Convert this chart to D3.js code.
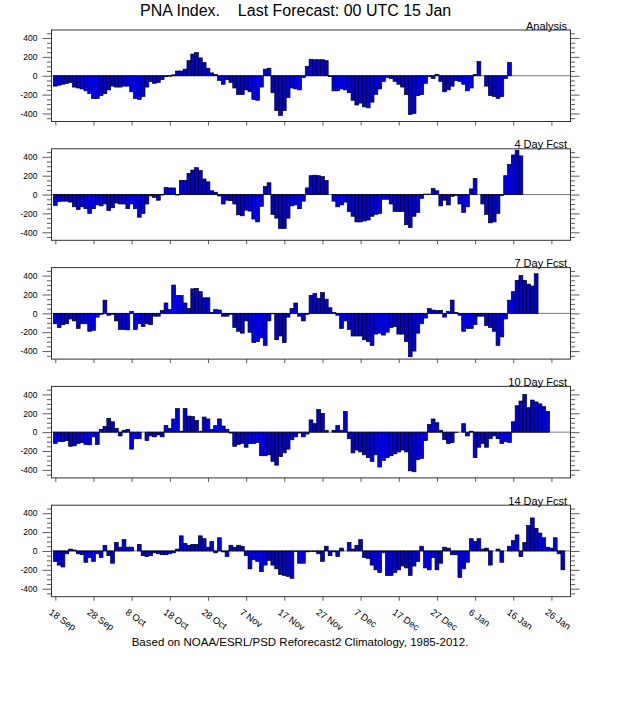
<!DOCTYPE html>
<html><head><meta charset="utf-8">
<script src="https://cdn.jsdelivr.net/npm/d3@7"></script>
<style>
body{margin:0;background:#fff}
text{font-family:"Liberation Sans",Arial,Helvetica,sans-serif;fill:#000}
</style>
</head><body><svg id="c" width="618" height="702"></svg>
<script>
// ---- data ----
const titleText = "PNA Index.    Last Forecast: 00 UTC 15 Jan";
const footText = "Based on NOAA/ESRL/PSD Reforecast2 Climatology, 1985-2012.";
const panelNames = ["Analysis","4 Day Fcst","7 Day Fcst","10 Day Fcst","14 Day Fcst"];
// day index 0 = 18 Sep
const tickDays = [0,10,20,30,40,50,60,70,80,90,100,110,120,130];
const tickLabels = ["18 Sep","28 Sep","8 Oct","18 Oct","28 Oct","7 Nov","17 Nov","27 Nov","7 Dec","17 Dec","27 Dec","6 Jan","16 Jan","26 Jan"];
const yTickValues = [-400,-200,0,200,400];

const analysis = [
-110,-100,-90,-80,-70,-120,-130,-140,-160,-190,
-240,-240,-210,-190,-150,-110,-120,-120,-110,-110,
-170,-240,-250,-220,-120,-60,-80,-70,-40,-10,
-5,10,50,50,70,160,230,245,190,140,
80,30,15,-50,-90,-40,-70,-130,-200,-200,
-150,-170,-250,-260,-120,70,80,-180,-370,-420,
-370,-230,-130,-140,-150,-20,100,175,170,170,
170,160,-10,-160,-160,-140,-150,-180,-260,-310,
-290,-330,-340,-280,-200,-140,-60,-20,-30,-60,
-90,-120,-200,-410,-400,-210,-200,-80,-10,-30,
15,-60,-170,-150,-110,-50,-60,-90,-160,-130,
15,150,0,-110,-210,-220,-240,-220,-30,140];

const fcst4 = [
-115,-75,-70,-70,-80,-130,-160,-130,-150,-200,
-150,-110,-120,-100,-170,-140,-90,-100,-100,-150,
-100,-150,-240,-200,-100,-15,-30,-60,-5,75,
70,70,-5,150,150,225,260,285,255,165,
135,40,25,-15,-100,-60,-65,-100,-215,-225,
-165,-175,-260,-290,-125,85,125,-210,-250,-360,
-360,-250,-120,-110,-150,-70,70,200,205,200,
190,150,0,-70,-130,-110,-80,-180,-230,-290,
-290,-280,-270,-230,-210,-200,-50,-50,-100,-180,
-180,-180,-320,-350,-230,-190,-40,5,5,65,
40,-120,-60,-110,-20,-10,-100,-190,-130,60,
170,0,-100,-210,-300,-290,-200,-10,200,320,
420,470,410];

const fcst7 = [
-110,-150,-120,-110,-60,-80,-160,-110,-110,-190,
-180,-40,-10,140,-20,-10,-80,-170,-170,-175,
20,-170,-110,-140,-110,-120,-30,-30,30,110,
40,300,190,190,110,50,260,265,230,165,
165,10,40,35,-30,-30,-10,-150,-190,-210,
-80,-200,-310,-300,-260,-340,-80,-5,-280,-240,
-310,-40,50,110,-30,-80,-10,190,210,160,
220,150,60,10,-20,-160,-80,-170,-240,-240,
-240,-280,-300,-340,-220,-210,-230,-200,-150,-140,
-220,-220,-300,-460,-400,-210,-110,-50,50,35,
30,30,-40,20,140,10,-20,-190,-160,-160,
-120,-30,-30,-130,-150,-190,-340,-250,-60,140,
230,350,400,350,310,290,420];

const fcst10 = [
-120,-100,-100,-90,-150,-145,-120,-110,-130,-135,
-50,-130,30,60,145,110,40,-40,20,30,
-180,-70,-70,0,-90,-40,-50,-30,-50,70,
40,140,250,10,250,170,165,125,10,160,
140,30,70,140,65,30,-10,-150,-130,-120,
-160,-120,-120,-110,-250,-250,-240,-310,-350,-260,
-220,-180,-80,-50,-10,-50,-20,130,90,240,
200,20,0,20,70,20,220,-70,-220,-190,
-210,-240,-270,-310,-240,-370,-300,-270,-250,-230,
-210,-190,-210,-410,-420,-290,-280,-90,80,140,
100,20,-80,-120,-110,-5,0,90,-40,10,
-270,-160,-120,-160,-70,-40,-70,-120,-100,-110,
110,280,330,400,260,340,320,300,270,220];

const fcst14 = [
-110,-150,-170,-30,20,10,-30,-40,-120,-70,
-110,-30,-70,60,-50,-130,90,40,120,40,
40,0,70,-50,-60,-50,-20,-30,-40,-40,
-30,-20,20,160,80,60,70,70,160,130,
40,100,-20,140,-10,-60,60,40,60,50,
-50,-190,-90,-110,-220,-150,-100,-150,-190,-250,
-260,-270,-290,-5,-130,-130,-10,-5,-5,-30,
-110,50,-50,-10,-60,30,0,90,20,60,
120,-70,-80,-150,-200,-230,-20,-260,-260,-230,
-200,-160,-180,-260,-160,-110,50,-180,-200,-70,
-200,-130,40,30,-40,-40,-280,-190,-120,130,
100,130,20,30,-150,0,20,-120,0,50,
110,170,-60,90,270,350,240,190,140,40,
30,140,-30,-200];

const series = [analysis, fcst4, fcst7, fcst10, fcst14];

// ---- drawing ----
const svg = d3.select("#c");
const x = d3.scaleLinear().domain([-1,135]).range([51.5,570.5]);
const panelTop0 = 30, panelStep = 118.8, panelH = 91.5;
const minorVals = d3.range(-450,451,50).filter(v => v % 200 !== 0);

svg.append("text").attr("x",140).attr("y",15.5)
  .attr("font-size",16).style("white-space","pre").text(titleText);

series.forEach((vals, k) => {
  const top = panelTop0 + k*panelStep;
  const y = d3.scaleLinear().domain([-485,485]).range([top+panelH, top]);
  const g = svg.append("g");

  // zero line
  g.append("line").attr("x1",x.range()[0]).attr("x2",x.range()[1])
    .attr("y1",y(0)).attr("y2",y(0)).attr("stroke","#555").attr("stroke-width",0.8);

  // bars
  g.selectAll("rect.bar").data(vals).join("rect").attr("class","bar")
    .attr("x",(d,i)=>x(i-0.5)).attr("width",(d,i)=>x(i+0.5)-x(i-0.5))
    .attr("y",d=>y(Math.max(0,d))).attr("height",d=>Math.abs(y(d)-y(0)))
    .attr("fill","#0000e0").attr("stroke","#000010").attr("stroke-width",0.7);

  // frame
  g.append("rect").attr("x",x.range()[0]).attr("y",top)
    .attr("width",x.range()[1]-x.range()[0]).attr("height",panelH)
    .attr("fill","none").attr("stroke","#333").attr("stroke-width",1);

  // left axis
  const la = g.append("g").attr("transform",`translate(${x.range()[0]},0)`)
    .call(d3.axisLeft(y).tickValues(yTickValues).tickSize(9).tickPadding(5).tickFormat(d=>String(d)));
  la.select(".domain").remove();
  la.selectAll("text").attr("font-size",8.5).attr("font-family","Liberation Sans, Arial, sans-serif");
  const lm = g.append("g").attr("transform",`translate(${x.range()[0]},0)`)
    .call(d3.axisLeft(y).tickValues(minorVals).tickSize(4.5).tickFormat(""));
  lm.select(".domain").remove();

  // right axis
  const ra = g.append("g").attr("transform",`translate(${x.range()[1]},0)`)
    .call(d3.axisRight(y).tickValues(yTickValues).tickSize(9).tickFormat(""));
  ra.select(".domain").remove();
  const rm = g.append("g").attr("transform",`translate(${x.range()[1]},0)`)
    .call(d3.axisRight(y).tickValues(minorVals).tickSize(4.5).tickFormat(""));
  rm.select(".domain").remove();

  // bottom ticks
  const ba = g.append("g").attr("transform",`translate(0,${top+panelH})`)
    .call(d3.axisBottom(x).tickValues(tickDays).tickSize(4).tickFormat(""));
  ba.select(".domain").remove();

  g.selectAll(".tick line").attr("stroke","#333").attr("stroke-width",0.8);

  // panel label
  g.append("text").attr("x",567).attr("y",top-0.5).attr("text-anchor","end")
    .attr("font-size",11).text(panelNames[k]);

  if (k === series.length-1) {
    const base = top+panelH;
    g.selectAll("text.xl").data(tickDays).join("text").attr("class","xl")
      .attr("font-size",9.5)
      .attr("transform",(d)=>`translate(${x(d)-7},${base+17}) rotate(35)`)
      .text((d,i)=>tickLabels[i]);
  }
});

svg.append("text").attr("x",300).attr("y",646).attr("text-anchor","middle")
  .attr("font-size",11.5).text(footText);
</script>
</body></html>
